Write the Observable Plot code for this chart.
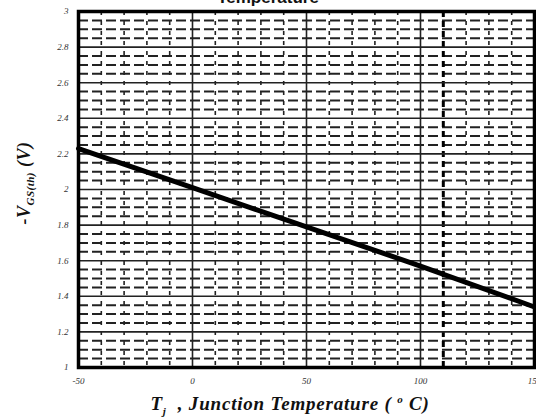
<!DOCTYPE html>
<html>
<head>
<meta charset="utf-8">
<script src="https://cdn.jsdelivr.net/npm/d3@7"></script>
<script src="https://cdn.jsdelivr.net/npm/@observablehq/plot@0.6"></script>
<style>
  body { margin: 0; background: #fff; }
  #wrap { position: relative; width: 536px; height: 420px; overflow: hidden; background: #fff; }
  .lbl { position: absolute; font-family: "Liberation Serif", "DejaVu Serif", serif; font-weight: bold; font-style: italic; color: #111; white-space: nowrap; }
  #title { font-style: normal; font-family: "Liberation Sans", Arial, sans-serif; font-size: 17px; left: 0; width: 536px; text-align: center; top: -12px; }
  #ylab { font-size: 18px; left: 25px; top: 183px; transform: translate(-50%, -50%) rotate(-90deg); letter-spacing: 0.5px; }
  #xlab { font-size: 19px; left: 290px; top: 405px; transform: translate(-50%, -50%); letter-spacing: 0.8px; }
  sub { font-size: 11px; }
</style>
</head>
<body>
<div id="wrap">
  <div id="chart"></div>
  <div id="title" class="lbl">Temperature</div>
  <div id="ylab" class="lbl">-V<sub>GS(th)</sub> (V)</div>
  <div id="xlab" class="lbl">T<sub>j</sub>&nbsp; , Junction Temperature (&nbsp;<sup style="font-size:11px">o</sup> C)</div>
</div>
<script>
// Data
const tempC = [-50, 0, 50, 100, 150];
const vgsTh = [2.23, 2.01, 1.79, 1.57, 1.34];

const xTicks = [-50, 0, 50, 100, 150];
const yTicks = [1, 1.2, 1.4, 1.6, 1.8, 2, 2.2, 2.4, 2.6, 2.8, 3];
const xMinor = [-40, -30, -20, -10, 10, 20, 30, 40, 60, 70, 80, 90, 120, 130, 140];
const xMajorGrid = [0, 50, 100];
const xHeavyDash = [110];
const yMinor = [1.05, 1.1, 1.15, 1.25, 1.3, 1.35, 1.45, 1.5, 1.55, 1.65, 1.7, 1.75, 1.85, 1.9, 1.95,
                2.05, 2.1, 2.15, 2.25, 2.3, 2.35, 2.45, 2.5, 2.55, 2.65, 2.7, 2.75, 2.85, 2.9, 2.95];
const yMajorGrid = [1.2, 1.4, 1.6, 1.8, 2, 2.2, 2.4, 2.6, 2.8];

const rows = tempC.map((t, i) => ({t, v: vgsTh[i]}));

const chart = Plot.plot({
  width: 536,
  height: 420,
  marginLeft: 78,
  marginRight: 2,
  marginTop: 11,
  marginBottom: 53,
  x: {domain: [-50, 150]},
  y: {domain: [1, 3]},
  style: {background: "transparent"},
  marks: [
    Plot.ruleY(yMinor, {stroke: "#222", strokeWidth: 2, strokeDasharray: "10,4"}),
    Plot.ruleX(xMinor, {stroke: "#222", strokeWidth: 1.6, strokeDasharray: "4,6"}),
    Plot.ruleX(xHeavyDash, {stroke: "#000", strokeWidth: 3, strokeDasharray: "6,4"}),
    Plot.ruleY(yMajorGrid, {stroke: "#222", strokeWidth: 1.6}),
    Plot.ruleX(xMajorGrid, {stroke: "#222", strokeWidth: 1.6}),
    Plot.line(rows, {x: "t", y: "v", stroke: "#000", strokeWidth: 5}),
    Plot.frame({stroke: "#000", strokeWidth: 3.5}),
    Plot.axisX({ticks: xTicks, tickSize: 0, tickPadding: 10, label: null,
      fontSize: 9, fontStyle: "italic", fontFamily: "Liberation Serif, serif", fill: "#333",
      tickFormat: d => String(d)}),
    Plot.axisY({ticks: yTicks, tickSize: 0, tickPadding: 10, label: null,
      fontSize: 9, fontStyle: "italic", fontFamily: "Liberation Serif, serif", fill: "#333",
      tickFormat: d => String(d)})
  ]
});
document.getElementById("chart").appendChild(chart);
</script>
</body>
</html>
